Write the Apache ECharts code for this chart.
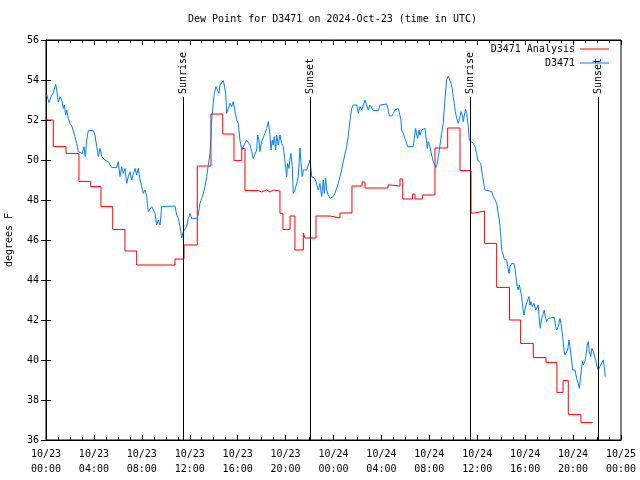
<!DOCTYPE html>
<html>
<head>
<meta charset="utf-8">
<script src="https://cdn.jsdelivr.net/npm/echarts@6/dist/echarts.min.js"></script>
<style>html,body{margin:0;padding:0;background:#fff}#c{width:640px;height:480px}</style>
</head>
<body>
<div id="c"></div>
<script>
// Hours since 2024-10-23 00:00 UTC
const tickLabels = ['10/23\n00:00','10/23\n04:00','10/23\n08:00','10/23\n12:00','10/23\n16:00','10/23\n20:00',
  '10/24\n00:00','10/24\n04:00','10/24\n08:00','10/24\n12:00','10/24\n16:00','10/24\n20:00','10/25\n00:00'];
const seriesNames = ['D3471 Analysis', 'D3471'];
const eventHours = [11.44, 22.04, 35.39, 46.08];
const eventNames = ['Sunrise', 'Sunset', 'Sunrise', 'Sunset'];

// Analysis (stepped): [hour, value] — value holds from this hour to the next
const analysis = [[0,52.0],[0.61,50.67],[1.67,50.33],[2.75,48.93],[3.73,48.67],[4.59,47.67],[5.57,46.53],
  [6.59,45.45],[7.57,44.75],[10.77,45.05],[11.52,45.75],[12.63,49.7],[13.77,52.3],[14.75,51.3],[15.69,49.97],
  [16.34,50.58],[16.61,48.47],[17.70,48.4],[18.0,48.5],[18.4,48.4],[18.7,48.5],[19.0,48.45],[19.53,47.33],
  [19.78,46.53],[20.37,47.2],[20.78,45.5],[21.48,46.35],[21.62,46.1],[22.54,47.2],[23.71,47.1],[24.54,47.35],
  [25.54,48.7],[26.38,48.9],[26.63,48.6],[28.55,48.75],[28.75,48.7],[29.55,49.05],[29.78,48.05],[30.6,48.3],
  [30.8,48.05],[31.44,48.25],[32.47,50.6],[33.53,51.6],[34.56,49.47],[35.48,47.35],[35.75,47.45],[36.6,45.83],
  [37.62,43.63],[38.69,42.0],[39.62,40.83],[40.68,40.12],[41.74,39.88],[42.65,38.38],[43.16,38.97],
  [43.6,37.28],[44.66,36.87],[45.63,36.87]];

// Observations: [hour, value]
const observed = [[0.06,53.25],[0.25,52.87],[0.42,53.17],[0.61,53.37],[0.81,53.78],[0.89,53.5],[1.03,52.9],
  [1.17,53.17],[1.25,53.25],[1.36,52.9],[1.44,52.58],[1.53,52.75],[1.64,52.25],[1.73,52.5],[1.86,52.08],
  [2.0,51.83],[2.15,51.7],[2.28,51.75],[2.42,51.17],[2.56,50.83],[2.70,50.42],[2.84,50.5],[3.03,50.33],
  [3.17,50.67],[3.28,50.17],[3.40,51.0],[3.53,51.47],[3.95,51.47],[4.09,51.25],[4.23,50.67],[4.37,50.17],
  [4.51,50.58],[4.65,50.17],[4.92,50.0],[5.20,49.92],[5.48,49.62],[5.90,49.62],[6.03,49.92],[6.18,49.17],
  [6.32,49.67],[6.45,49.33],[6.59,49.58],[6.74,48.83],[6.87,49.17],[7.01,49.42],[7.15,49.0],[7.43,49.58],
  [7.57,49.25],[7.70,49.58],[7.85,49.0],[7.99,48.67],[8.12,48.33],[8.26,48.5],[8.41,48.17],[8.46,47.83],
  [8.54,47.42],[8.68,47.5],[8.82,47.67],[8.96,47.67],[9.10,47.33],[9.24,46.75],[9.37,47.0],[9.52,46.75],
  [9.66,47.67],[9.79,47.7],[10.77,47.7],[10.91,47.25],[11.04,47.08],[11.19,46.67],[11.33,46.1],[11.46,46.4],
  [11.60,46.55],[11.74,46.67],[11.88,47.08],[12.02,47.33],[12.16,47.08],[12.58,47.08],[12.71,47.25],
  [12.85,47.83],[13.00,48.08],[13.13,48.33],[13.27,48.67],[13.41,49.17],[13.55,49.75],[13.69,50.33],
  [13.77,51.17],[13.83,52.0],[13.96,52.83],[14.05,53.33],[14.19,53.67],[14.33,53.58],[14.44,53.33],
  [14.52,53.75],[14.67,53.83],[14.80,53.97],[14.88,53.75],[15.00,53.33],[15.08,52.33],[15.22,52.58],
  [15.36,52.83],[15.50,52.67],[15.63,52.92],[15.78,52.83],[15.92,52.0],[16.05,51.83],[16.19,51.0],
  [16.34,50.5],[16.47,50.58],[16.61,50.83],[16.75,51.0],[16.89,51.0],[17.03,50.75],[17.17,50.42],
  [17.30,50.08],[17.45,50.0],[17.59,50.5],[17.67,51.25],[17.78,51.0],[17.86,50.42],[18.00,50.92],
  [18.14,51.0],[18.28,51.33],[18.42,51.58],[18.56,51.92],[18.70,51.25],[18.78,50.5],[18.89,51.0],
  [18.97,50.75],[19.06,51.17],[19.17,50.5],[19.26,51.25],[19.39,50.75],[19.53,51.25],[19.67,50.83],
  [19.81,50.67],[19.95,49.92],[20.09,49.17],[20.17,49.83],[20.28,49.58],[20.37,50.08],[20.45,50.33],
  [20.56,49.67],[20.64,48.33],[20.78,48.5],[20.93,48.83],[21.06,49.17],[21.20,50.6],[21.28,49.92],
  [21.39,49.17],[21.48,49.5],[21.62,49.58],[21.76,49.5],[21.89,49.6],[22.04,50.0],[22.18,49.17],
  [22.31,49.25],[22.45,49.08],[22.60,49.0],[22.73,48.5],[22.87,48.83],[23.01,48.17],[23.15,49.0],
  [23.23,48.33],[23.35,49.08],[23.43,48.5],[23.56,48.25],[23.71,48.08],[23.85,48.0],[23.98,48.17],
  [24.12,48.33],[24.26,48.25],[24.40,48.83],[24.54,49.17],[24.68,49.5],[24.82,49.92],[24.96,50.0],
  [25.10,50.67],[25.23,51.17],[25.38,52.0],[25.52,52.58],[25.65,52.75],[25.79,52.67],[25.94,52.75],
  [26.07,52.33],[26.21,52.67],[26.35,52.5],[26.49,52.75],[26.63,53.0],[26.77,52.92],[26.90,52.5],
  [27.04,52.75],[27.19,52.67],[27.32,52.47],[27.74,52.47],[27.88,52.75],[28.02,52.8],[28.44,52.8],
  [28.57,52.5],[28.66,52.2],[28.86,52.2],[29.00,52.33],[29.13,52.5],[29.27,52.42],[29.41,52.58],
  [29.55,52.5],[29.63,52.0],[29.69,51.5],[29.82,51.33],[29.97,51.25],[30.11,50.83],[30.19,50.67],
  [30.66,50.67],[30.74,51.08],[30.86,51.58],[30.94,51.25],[31.03,51.08],[31.13,51.5],[31.22,51.25],
  [31.36,51.5],[31.49,51.42],[31.64,51.58],[31.72,51.17],[31.83,50.58],[31.91,50.92],[32.05,50.67],
  [32.19,50.25],[32.33,49.92],[32.47,49.75],[32.55,49.63],[32.66,49.83],[32.75,50.17],[32.89,50.75],
  [33.03,51.33],[33.16,51.83],[33.30,53.0],[33.44,54.0],[33.58,54.2],[33.72,54.17],[33.81,53.83],
  [33.91,53.58],[34.00,53.17],[34.08,52.83],[34.17,52.42],[34.28,52.08],[34.42,51.83],[34.56,52.17],
  [34.64,52.42],[34.75,52.25],[34.83,51.92],[34.92,52.25],[35.03,52.53],[35.12,52.33],[35.25,51.67],
  [35.33,51.0],[35.45,50.92],[35.67,50.83],[35.81,50.67],[35.95,50.33],[36.03,50.0],[36.17,49.92],
  [36.29,49.83],[36.37,49.5],[36.45,49.17],[36.56,48.75],[36.64,48.5],[36.79,48.42],[37.20,48.42],
  [37.34,48.17],[37.48,48.08],[37.62,47.83],[37.75,47.33],[37.84,47.0],[37.90,46.67],[37.98,46.08],
  [38.04,45.5],[38.17,45.25],[38.26,45.03],[38.31,45.13],[38.46,45.0],[38.54,44.67],[38.65,44.33],
  [38.73,44.67],[38.87,44.83],[39.06,44.83],[39.15,44.58],[39.23,44.17],[39.34,43.67],[39.42,43.5],
  [39.51,43.75],[39.62,43.83],[39.71,43.17],[39.79,42.67],[39.90,42.25],[39.98,42.5],[40.07,42.75],
  [40.21,43.0],[40.32,43.17],[40.40,42.75],[40.48,42.92],[40.59,42.67],[40.73,42.83],[40.88,42.5],
  [41.01,42.58],[41.09,42.75],[41.18,42.0],[41.26,41.58],[41.38,42.08],[41.51,42.33],[41.59,42.5],
  [41.71,42.08],[41.79,41.92],[41.93,42.08],[42.07,42.13],[42.43,42.13],[42.55,41.67],[42.63,41.5],
  [42.77,41.67],[42.90,42.08],[42.99,41.83],[43.13,41.17],[43.24,40.5],[43.32,40.25],[43.46,40.25],
  [43.55,40.5],[43.66,41.0],[43.74,40.67],[43.88,40.0],[43.96,39.5],[44.16,39.5],[44.30,39.08],
  [44.43,38.83],[44.52,38.58],[44.63,38.58],[44.72,39.67],[44.80,39.92],[44.85,39.75],[44.97,39.92],
  [45.07,40.17],[45.18,40.75],[45.27,40.92],[45.35,40.42],[45.47,40.17],[45.57,40.58],[45.68,40.42],
  [45.77,40.25],[45.88,40.0],[45.97,39.75],[46.10,39.5],[46.24,39.67],[46.38,39.83],[46.52,40.0],
  [46.60,39.67],[46.69,39.17]];

const FONT = 'DejaVu Sans Mono';
const RED = '#ff0000', BLUE = '#0080ff';
const tickStyle = { show: true, inside: true, length: 5, lineStyle: { color: '#000' } };
const minorStyle = { show: true, splitNumber: 4, length: 3, lineStyle: { color: '#000' } };

const chart = echarts.init(document.getElementById('c'), null, { renderer: 'canvas' });
chart.setOption({
  animation: false,
  backgroundColor: '#fff',
  title: {
    text: 'Dew Point for D3471 on 2024-Oct-23 (time in UTC)',
    left: 188, top: 14, padding: 0,
    textStyle: { fontFamily: FONT, fontSize: 10, fontWeight: 'normal', color: '#000' }
  },
  legend: {
    orient: 'vertical', right: 31, top: 42, padding: 0, align: 'right',
    itemWidth: 29, itemHeight: 1, itemGap: 0, icon: 'rect',
    data: seriesNames,
    textStyle: { fontFamily: FONT, fontSize: 10, color: '#000', lineHeight: 14 }
  },
  grid: { left: 46, right: 19, top: 40, bottom: 40, containLabel: false, outerBoundsMode: 'none',
    show: true, borderColor: '#000', borderWidth: 1 },
  xAxis: [
    { type: 'value', min: 0, max: 48, interval: 4, position: 'bottom',
      axisLine: { show: true, lineStyle: { color: '#000' } },
      axisTick: tickStyle, minorTick: minorStyle, splitLine: { show: false },
      axisLabel: { margin: 7, fontFamily: FONT, fontSize: 10, color: '#000', lineHeight: 15,
        formatter: v => tickLabels[Math.round(v / 4)] } },
    { type: 'value', min: 0, max: 48, interval: 4, position: 'top',
      axisLine: { show: true, lineStyle: { color: '#000' } },
      axisTick: tickStyle, minorTick: minorStyle, splitLine: { show: false },
      axisLabel: { show: false } }
  ],
  yAxis: [
    { type: 'value', min: 36, max: 56, interval: 2, position: 'left',
      name: 'degrees F', nameLocation: 'middle', nameRotate: 90, nameGap: 32,
      nameTextStyle: { fontFamily: FONT, fontSize: 10, color: '#000' },
      axisLine: { show: true, lineStyle: { color: '#000' } },
      axisTick: tickStyle, splitLine: { show: false },
      axisLabel: { margin: 7, fontFamily: FONT, fontSize: 10, color: '#000' } },
    { type: 'value', min: 36, max: 56, interval: 2, position: 'right',
      axisLine: { show: true, lineStyle: { color: '#000' } },
      axisTick: tickStyle, splitLine: { show: false }, axisLabel: { show: false } }
  ],
  series: [
    { name: seriesNames[0], type: 'line', step: 'end', data: analysis,
      showSymbol: false, symbol: 'none', color: RED, itemStyle: { color: RED },
      lineStyle: { color: RED, width: 1 }, z: 2,
      markLine: {
        silent: true, symbol: ['none', 'none'], animation: false,
        lineStyle: { color: '#000', width: 1, type: 'solid' },
        label: { show: false },
        data: eventHours.map(h => [{ coord: [h, 36] }, { coord: [h, 53.15] }])
      },
      markPoint: {
        silent: true, symbol: 'rect', symbolSize: 0, animation: false,
        label: { show: true, formatter: '{b}', position: 'inside', rotate: 90, align: 'left',
          verticalAlign: 'middle', fontFamily: FONT, fontSize: 10, color: '#000' },
        data: eventHours.map((h, i) => ({ coord: [h, 53.3], name: eventNames[i], value: 0 }))
      }
    },
    { name: seriesNames[1], type: 'line', data: observed,
      showSymbol: false, symbol: 'none', color: BLUE, itemStyle: { color: BLUE },
      lineStyle: { color: BLUE, width: 1 }, z: 3 }
  ]
});
</script>
</body>
</html>
